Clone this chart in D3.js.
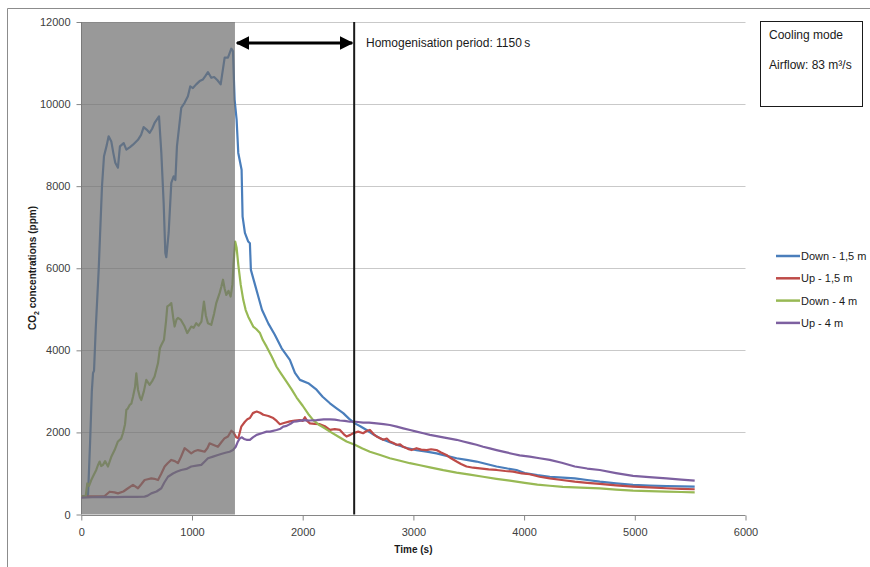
<!DOCTYPE html>
<html>
<head>
<meta charset="utf-8">
<script src="https://cdn.jsdelivr.net/npm/d3@7"></script>
<style>
  html, body { margin: 0; padding: 0; background: #fff; }
  svg { display: block; font-family: "Liberation Sans", Arial, sans-serif; }
  .tick text { fill: #404040; font-size: 11px; }
</style>
</head>
<body>
<svg id="chart" width="870" height="567"></svg>
<script>
// Axis ticks
const xTicks = [0, 1000, 2000, 3000, 4000, 5000, 6000];
const yTicks = [0, 2000, 4000, 6000, 8000, 10000, 12000];

// Series: time (s) and CO2 concentration (ppm)
const downLowT = [0, 40, 61, 80, 95, 106, 115, 130, 157, 187, 205, 230, 247, 271, 290, 307, 331, 349, 383, 407, 440, 467, 512, 540, 563, 590, 617, 640, 662, 702, 723, 744, 759, 768, 789, 813, 834, 850, 864, 903, 933, 963, 984, 1008, 1038, 1069, 1099, 1120, 1144, 1174, 1200, 1230, 1259, 1295, 1325, 1355, 1370, 1385, 1403, 1418, 1448, 1457, 1478, 1508, 1523, 1532, 1569, 1600, 1632, 1690, 1748, 1810, 1884, 1930, 1975, 2050, 2125, 2180, 2246, 2300, 2366, 2420, 2471, 2520, 2577, 2640, 2697, 2770, 2848, 2940, 3028, 3120, 3209, 3300, 3390, 3480, 3570, 3660, 3751, 3850, 3931, 4006, 4120, 4232, 4350, 4458, 4570, 4684, 4830, 4984, 5130, 5286, 5420, 5541];
const downLowV = [440, 450, 480, 1800, 3000, 3450, 3500, 4500, 5960, 8000, 8730, 9000, 9215, 9090, 8800, 8570, 8450, 8970, 9050, 8890, 8950, 9010, 9130, 9250, 9440, 9380, 9300, 9400, 9540, 9700, 8810, 7590, 6370, 6270, 6860, 8080, 8240, 8150, 8970, 9910, 10030, 10190, 10430, 10390, 10480, 10560, 10600, 10680, 10780, 10640, 10660, 10580, 10480, 11130, 11130, 11350, 11290, 10110, 9620, 8810, 8400, 7260, 6860, 6650, 6610, 5960, 5600, 5300, 4990, 4650, 4380, 4050, 3770, 3450, 3280, 3200, 3040, 2870, 2710, 2600, 2470, 2330, 2220, 2150, 2060, 1950, 1860, 1780, 1700, 1620, 1570, 1530, 1490, 1430, 1370, 1330, 1290, 1230, 1170, 1120, 1085, 1010, 960, 920, 900, 880, 840, 800, 760, 720, 705, 695, 685, 680];

const upLowT = [0, 60, 120, 211, 256, 300, 331, 380, 422, 467, 512, 540, 572, 600, 632, 660, 693, 720, 753, 780, 813, 845, 873, 900, 933, 960, 993, 1020, 1054, 1085, 1114, 1140, 1159, 1190, 1234, 1265, 1295, 1325, 1355, 1375, 1400, 1418, 1445, 1478, 1500, 1523, 1550, 1584, 1615, 1644, 1690, 1734, 1765, 1794, 1830, 1884, 1930, 1975, 2000, 2020, 2040, 2065, 2110, 2155, 2200, 2246, 2290, 2336, 2370, 2396, 2430, 2456, 2501, 2546, 2580, 2607, 2640, 2667, 2700, 2727, 2760, 2787, 2820, 2848, 2880, 2908, 2950, 2983, 3028, 3070, 3119, 3160, 3209, 3250, 3299, 3340, 3390, 3430, 3480, 3540, 3600, 3680, 3751, 3830, 3901, 3980, 4051, 4140, 4232, 4340, 4458, 4570, 4684, 4830, 4984, 5130, 5286, 5420, 5541];
const upLowV = [435, 440, 445, 450, 555, 540, 515, 560, 640, 720, 640, 730, 840, 860, 880, 870, 840, 980, 1170, 1250, 1330, 1300, 1250, 1400, 1615, 1560, 1490, 1540, 1570, 1550, 1530, 1620, 1735, 1700, 1650, 1760, 1860, 1900, 2040, 2000, 1880, 1860, 2140, 2260, 2320, 2350, 2470, 2510, 2480, 2430, 2400, 2350, 2280, 2200, 2230, 2270, 2290, 2300, 2280, 2370, 2280, 2220, 2210, 2200, 2150, 2060, 2080, 2060, 1960, 1900, 1940, 1980, 2020, 1980, 2040, 2060, 1960, 1900, 1860, 1820, 1850, 1780, 1740, 1700, 1710, 1650, 1600, 1570, 1615, 1580, 1570, 1590, 1570, 1510, 1450, 1370, 1290, 1230, 1170, 1140, 1125, 1100, 1085, 1060, 1045, 1000, 980, 920, 880, 840, 800, 770, 745, 710, 680, 660, 640, 625, 615];

const downHighT = [0, 40, 54, 70, 90, 110, 135, 150, 166, 180, 196, 215, 241, 270, 301, 331, 360, 376, 395, 407, 420, 437, 452, 467, 485, 497, 512, 530, 542, 565, 587, 617, 640, 662, 693, 710, 723, 747, 765, 777, 795, 813, 830, 843, 860, 873, 900, 930, 957, 975, 993, 1015, 1038, 1060, 1085, 1108, 1125, 1144, 1174, 1200, 1219, 1250, 1265, 1280, 1295, 1310, 1330, 1349, 1365, 1375, 1390, 1403, 1418, 1440, 1463, 1485, 1508, 1530, 1553, 1580, 1614, 1640, 1674, 1720, 1764, 1800, 1855, 1900, 1945, 2000, 2050, 2095, 2150, 2200, 2246, 2320, 2396, 2471, 2540, 2607, 2700, 2787, 2880, 2968, 3060, 3149, 3270, 3390, 3510, 3630, 3750, 3871, 4006, 4120, 4232, 4350, 4458, 4570, 4684, 4830, 4984, 5130, 5286, 5420, 5541];
const downHighV = [440, 450, 760, 700, 840, 950, 1085, 1200, 1290, 1180, 1210, 1300, 1170, 1400, 1570, 1780, 1850, 1980, 2200, 2550, 2580, 2670, 2700, 2870, 3100, 3440, 3040, 2850, 2790, 3000, 3280, 3160, 3250, 3360, 3690, 4050, 4130, 4260, 4700, 5070, 5100, 5150, 4800, 4580, 4750, 4790, 4740, 4600, 4420, 4500, 4580, 4550, 4660, 4600, 4700, 5190, 4850, 4660, 4620, 4900, 5150, 5400, 5550, 5720, 5500, 5350, 5450, 5310, 5600, 6100, 6650, 6500, 6090, 5600, 5230, 4980, 4820, 4700, 4580, 4520, 4420, 4250, 4090, 3850, 3600, 3450, 3230, 3050, 2850, 2650, 2450, 2300, 2180, 2100, 2020, 1900, 1780, 1700, 1610, 1530, 1450, 1370, 1310, 1250, 1200, 1150, 1080, 1020, 970, 920, 870, 825, 770, 730, 700, 675, 660, 650, 635, 605, 580, 570, 555, 548, 540];

const upHighT = [0, 100, 200, 300, 400, 500, 572, 600, 632, 680, 723, 750, 783, 828, 860, 903, 950, 993, 1040, 1084, 1115, 1144, 1190, 1234, 1270, 1310, 1340, 1370, 1395, 1415, 1433, 1451, 1470, 1493, 1523, 1550, 1584, 1630, 1674, 1704, 1764, 1800, 1824, 1855, 1890, 1915, 1945, 2005, 2060, 2125, 2190, 2246, 2290, 2336, 2380, 2426, 2480, 2546, 2600, 2667, 2730, 2787, 2850, 2908, 2970, 3028, 3090, 3149, 3210, 3269, 3330, 3390, 3450, 3510, 3570, 3630, 3690, 3751, 3830, 3901, 3960, 4051, 4140, 4232, 4340, 4458, 4570, 4684, 4830, 4984, 5130, 5286, 5420, 5541];
const upHighV = [410, 420, 430, 425, 430, 430, 435, 460, 515, 560, 640, 780, 920, 1000, 1040, 1085, 1110, 1170, 1190, 1210, 1290, 1370, 1410, 1450, 1480, 1510, 1530, 1570, 1650, 1780, 1860, 1880, 1840, 1820, 1820, 1880, 1940, 1980, 2020, 2020, 2060, 2090, 2140, 2160, 2210, 2260, 2270, 2300, 2290, 2300, 2320, 2320, 2310, 2290, 2280, 2260, 2260, 2240, 2240, 2220, 2200, 2180, 2140, 2100, 2060, 2020, 1980, 1940, 1910, 1880, 1850, 1820, 1780, 1740, 1700, 1650, 1610, 1570, 1520, 1475, 1440, 1410, 1370, 1330, 1260, 1170, 1120, 1085, 1010, 940, 910, 880, 850, 825];

const seriesNames = ["Down - 1,5 m", "Up - 1,5 m", "Down - 4 m", "Up - 4 m"];
const seriesColors = ["#4a7ebb", "#be4b48", "#98b954", "#7d60a0"];
const seriesTimes = [downLowT, upLowT, downHighT, upHighT];
const seriesValues = [downLowV, upLowV, downHighV, upHighV];

// Injection phase (shaded) and end of the homogenisation period
const injectionEnd = 1388;
const homogenisationEnd = 2465;
const arrowLevel = 11490;
const annotationText = "Homogenisation period: 1150\u2009s";
const infoLines = ["Cooling mode", "Airflow: 83 m\u00b3/s"];

const svg = d3.select("#chart");

const x = d3.scaleLinear().domain([0, 6000]).range([81.3, 745.5]);
const y = d3.scaleLinear().domain([0, 12000]).range([514.5, 22]);

// Outer chart frame
svg.append("path")
  .attr("d", "M7.5,567 L7.5,8.5 L870,8.5")
  .attr("fill", "none").attr("stroke", "#8c8c8c").attr("stroke-width", 1);

// Horizontal gridlines
svg.append("g").selectAll("line").data(yTicks.filter(d => d > 0)).join("line")
  .attr("x1", x(0)).attr("x2", x(6000))
  .attr("y1", d => Math.round(y(d)) + 0.5).attr("y2", d => Math.round(y(d)) + 0.5)
  .attr("stroke", "#c9c9c9").attr("stroke-width", 1);

// Axes
const xAxis = svg.append("g")
  .attr("transform", `translate(0,${Math.round(y(0)) + 0.5})`)
  .call(d3.axisBottom(x).tickValues(xTicks).tickSize(5).tickPadding(6).tickFormat(d3.format("d")));
const yAxis = svg.append("g")
  .attr("transform", `translate(${Math.round(x(0)) + 0.5},0)`)
  .call(d3.axisLeft(y).tickValues(yTicks).tickSize(5).tickPadding(6).tickFormat(d3.format("d")));
[xAxis, yAxis].forEach(g => {
  g.select(".domain").attr("stroke", "#868686");
  g.selectAll(".tick line").attr("stroke", "#868686");
  g.selectAll(".tick text").attr("font-family", "Liberation Sans, Arial, sans-serif");
});
xAxis.select(".domain").attr("d", `M${x(0)},0H${x(6000)}`);
xAxis.selectAll(".tick text").attr("dy", "0.9em");
yAxis.select(".domain").attr("d", `M0,${y(12000)}V${y(0)}`);

// Series lines
const line = d3.line().x(d => x(d[0])).y(d => y(d[1]));
seriesNames.forEach((name, i) => {
  const pts = seriesTimes[i].map((t, k) => [t, seriesValues[i][k]]);
  svg.append("path")
    .datum(pts)
    .attr("d", line)
    .attr("fill", "none")
    .attr("stroke", seriesColors[i])
    .attr("stroke-width", 2.2)
    .attr("stroke-linejoin", "round");
});

// Shaded injection phase, laid over the lines
svg.append("rect")
  .attr("x", x(0)).attr("y", y(12000))
  .attr("width", x(injectionEnd) - x(0))
  .attr("height", y(0) - y(12000))
  .attr("fill", "#6d6d6d").attr("fill-opacity", 0.7);

// End of homogenisation period
svg.append("line")
  .attr("x1", x(homogenisationEnd)).attr("x2", x(homogenisationEnd))
  .attr("y1", y(12000)).attr("y2", y(0))
  .attr("stroke", "#1a1a1a").attr("stroke-width", 2);

// Double-headed arrow spanning the homogenisation period
const defs = svg.append("defs");
defs.append("marker")
  .attr("id", "arrow-head")
  .attr("viewBox", "0 0 10 10")
  .attr("refX", 9).attr("refY", 5)
  .attr("markerWidth", 4.5).attr("markerHeight", 4.5)
  .attr("markerUnits", "strokeWidth")
  .attr("orient", "auto-start-reverse")
  .append("path").attr("d", "M0,0 L10,5 L0,10 Z").attr("fill", "#000");
svg.append("line")
  .attr("x1", x(injectionEnd) + 2).attr("x2", x(homogenisationEnd) - 2)
  .attr("y1", y(arrowLevel)).attr("y2", y(arrowLevel))
  .attr("stroke", "#000").attr("stroke-width", 3)
  .attr("marker-start", "url(#arrow-head)")
  .attr("marker-end", "url(#arrow-head)");

svg.append("text")
  .attr("x", 366).attr("y", y(arrowLevel) + 4)
  .attr("font-size", 12).attr("fill", "#1a1a1a")
  .text(annotationText);

// Info box
svg.append("rect")
  .attr("x", 760.5).attr("y", 21.5).attr("width", 102).attr("height", 85)
  .attr("fill", "#fff").attr("stroke", "#1a1a1a").attr("stroke-width", 1);
infoLines.forEach((t, i) => {
  svg.append("text")
    .attr("x", 769).attr("y", 39 + i * 30)
    .attr("font-size", 12).attr("fill", "#1a1a1a")
    .text(t);
});

// Axis titles
svg.append("text")
  .attr("x", (x(0) + x(6000)) / 2).attr("y", 553)
  .attr("text-anchor", "middle")
  .attr("font-size", 10).attr("font-weight", "bold").attr("fill", "#1a1a1a")
  .text("Time (s)");

const yTitle = svg.append("text")
  .attr("transform", "translate(36,268) rotate(-90)")
  .attr("text-anchor", "middle")
  .attr("font-size", 10).attr("font-weight", "bold").attr("fill", "#1a1a1a");
yTitle.append("tspan").text("CO");
yTitle.append("tspan").attr("font-size", 7).attr("dy", 3).text("2");
yTitle.append("tspan").attr("dy", -3).text(" concentrations (ppm)");

// Legend
const legend = svg.append("g");
seriesNames.forEach((name, i) => {
  const cy = 256 + i * 22.3;
  legend.append("line")
    .attr("x1", 776).attr("x2", 800).attr("y1", cy).attr("y2", cy)
    .attr("stroke", seriesColors[i]).attr("stroke-width", 2.5);
  legend.append("text")
    .attr("x", 801).attr("y", cy + 4)
    .attr("font-size", 11).attr("fill", "#1a1a1a")
    .text(name);
});
</script>
</body>
</html>
